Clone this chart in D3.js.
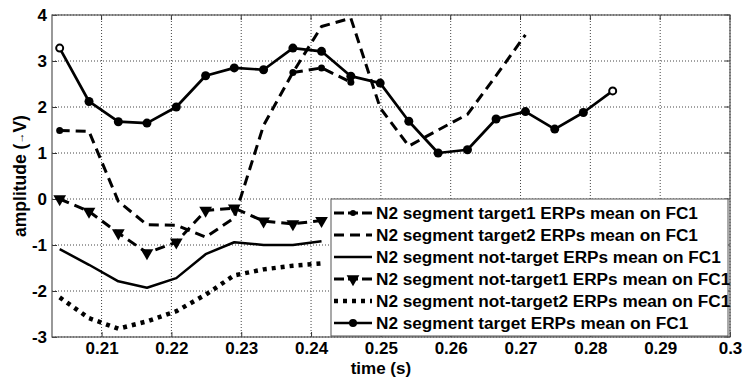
<!DOCTYPE html>
<html lang="en">
<head>
  <meta charset="UTF-8">
  <title>N2 segment ERPs on FC1</title>
  <script src="https://d3js.org/d3.v7.min.js"></script>
  <style>
    body { margin: 0; background: #fff; }
    text { font-family: "Liberation Sans", Arial, sans-serif; font-weight: bold; fill: #000; }
  </style>
</head>
<body>
  <svg width="744" height="382"></svg>

  <script>
    // sample times (s)
    const times = [0.2040, 0.2082, 0.2124, 0.2165, 0.2207, 0.2249, 0.2290, 0.2332, 0.2374, 0.2415,
                   0.2457, 0.2499, 0.2540, 0.2582, 0.2624, 0.2665, 0.2707, 0.2749, 0.2790, 0.2832];

    // amplitudes (uV), one value per sample time
    const target1 = [null, null, null, null, null, null, null, null, 2.75, 2.85, 2.54];
    const target2 = [1.49, 1.47, -0.05, -0.56, -0.57, -0.83, -0.41, 1.60, 2.75, 3.75,
                     3.93, 1.98, 1.15, 1.50, 1.84, 2.68, 3.57];
    const notTarget = [-1.09, -1.43, -1.79, -1.93, -1.72, -1.20, -0.94, -1.00, -1.00, -0.92];
    const notTarget1 = [0.00, -0.27, -0.74, -1.17, -0.94, -0.25, -0.20, -0.48, -0.54, -0.47];
    const notTarget2 = [-2.14, -2.59, -2.82, -2.66, -2.44, -2.08, -1.66, -1.53, -1.45, -1.40];
    const target = [3.28, 2.12, 1.68, 1.65, 2.00, 2.68, 2.85, 2.81, 3.28, 3.21,
                    2.67, 2.52, 1.69, 1.00, 1.07, 1.74, 1.90, 1.52, 1.88, 2.35];

    const xTicks = [0.21, 0.22, 0.23, 0.24, 0.25, 0.26, 0.27, 0.28, 0.29, 0.3];
    const yTicks = [-3, -2, -1, 0, 1, 2, 3, 4];

    const legendLabels = [
      "N2 segment target1 ERPs mean on FC1",
      "N2 segment target2 ERPs mean on FC1",
      "N2 segment not-target ERPs mean on FC1",
      "N2 segment not-target1 ERPs mean on FC1",
      "N2 segment not-target2 ERPs mean on FC1",
      "N2 segment target ERPs mean on FC1"
    ];

    const svg = d3.select("svg"),
          margin = { top: 15, right: 14, bottom: 45, left: 52 },
          width = +svg.attr("width") - margin.left - margin.right,
          height = +svg.attr("height") - margin.top - margin.bottom;

    const x = d3.scaleLinear().domain([0.2029, 0.3]).range([0, width]);
    const y = d3.scaleLinear().domain([-3, 4]).range([height, 0]);

    const g = svg.append("g")
      .attr("transform", "translate(" + margin.left + "," + margin.top + ")");

    // dotted grid
    g.selectAll(".gx").data(xTicks).enter().append("line")
      .attr("x1", d => x(d)).attr("x2", d => x(d))
      .attr("y1", 0).attr("y2", height)
      .attr("stroke", "#444").attr("stroke-width", 1).attr("stroke-dasharray", "1,2");
    g.selectAll(".gy").data(yTicks).enter().append("line")
      .attr("x1", 0).attr("x2", width)
      .attr("y1", d => y(d)).attr("y2", d => y(d))
      .attr("stroke", "#444").attr("stroke-width", 1).attr("stroke-dasharray", "1,2");

    // axes
    const xAxis = g.append("g")
      .attr("transform", "translate(0," + height + ")")
      .call(d3.axisBottom(x).tickValues(xTicks).tickFormat(d => String(d)).tickSize(-5).tickPadding(5));
    const yAxis = g.append("g")
      .call(d3.axisLeft(y).tickValues(yTicks).tickFormat(d => String(d)).tickSize(-5).tickPadding(5));
    [xAxis, yAxis].forEach(a => {
      a.select(".domain").remove();
      a.selectAll("line").attr("stroke", "#333");
      a.selectAll("text").attr("font-size", 17).attr("font-family", null);
    });
    // top/right ticks
    g.selectAll(".tt").data(xTicks).enter().append("line")
      .attr("x1", d => x(d)).attr("x2", d => x(d)).attr("y1", 0).attr("y2", 5).attr("stroke", "#333");
    g.selectAll(".tr").data(yTicks).enter().append("line")
      .attr("x1", width).attr("x2", width - 5).attr("y1", d => y(d)).attr("y2", d => y(d)).attr("stroke", "#333");

    g.append("rect")
      .attr("width", width).attr("height", height)
      .attr("fill", "none").attr("stroke", "#555").attr("stroke-width", 1.2);

    // axis titles
    svg.append("text")
      .attr("x", margin.left + x(0.25)).attr("y", 374)
      .attr("text-anchor", "middle").attr("font-size", 17)
      .text("time (s)");
    const yTitle = svg.append("text")
      .attr("transform", "translate(26," + (margin.top + height / 2) + ") rotate(-90)")
      .attr("text-anchor", "middle").attr("font-size", 17.5);
    yTitle.append("tspan").text("amplitude (");
    yTitle.append("tspan").attr("font-size", 11).attr("dy", -2).text("\u2192");
    yTitle.append("tspan").attr("dy", 2).text("V)");

    const pts = arr => arr.map((v, i) => ({ t: times[i], v: v })).filter(d => d.v !== null);
    const line = d3.line().x(d => x(d.t)).y(d => y(d.v));

    function drawLine(arr, dash, w) {
      g.append("path").datum(pts(arr))
        .attr("d", line)
        .attr("fill", "none").attr("stroke", "#000")
        .attr("stroke-width", w)
        .attr("stroke-dasharray", dash)
        .attr("stroke-linejoin", "round");
    }

    const tri = d3.symbol().type(d3.symbolTriangle).size(70);

    drawLine(notTarget2, "4,5", 4.5);
    drawLine(notTarget, null, 2.5);
    drawLine(notTarget1, "10,6", 3);
    g.selectAll(".tri").data(pts(notTarget1)).enter().append("path")
      .attr("d", tri)
      .attr("transform", d => "translate(" + x(d.t) + "," + y(d.v) + ") rotate(180)")
      .attr("fill", "#000");
    drawLine(target2, "10,6", 3);
    g.append("circle")
      .attr("cx", x(times[0])).attr("cy", y(target2[0])).attr("r", 3.5).attr("fill", "#000");
    drawLine(target1, "10,6", 3);
    g.selectAll(".t1").data(pts(target1)).enter().append("circle")
      .attr("cx", d => x(d.t)).attr("cy", d => y(d.v)).attr("r", 3.5).attr("fill", "#000");
    drawLine(target, null, 2.7);
    const tp = pts(target);
    g.selectAll(".tc").data(tp).enter().append("circle")
      .attr("cx", d => x(d.t)).attr("cy", d => y(d.v))
      .attr("r", (d, i) => (i === 0 || i === tp.length - 1) ? 3.5 : 4.5)
      .attr("fill", (d, i) => (i === 0 || i === tp.length - 1) ? "#fff" : "#000")
      .attr("stroke", "#000").attr("stroke-width", (d, i) => (i === 0 || i === tp.length - 1) ? 2 : 0);

    // legend
    const lg = svg.append("g").attr("transform", "translate(331,199)");
    lg.append("rect")
      .attr("width", 397).attr("height", 137)
      .attr("fill", "#fff").attr("stroke", "#555").attr("stroke-width", 1);

    const rowY = i => 14 + i * 22;
    const styles = [
      { dash: "10,4", w: 3, marker: "dot" },
      { dash: "10,6", w: 3, marker: null },
      { dash: null, w: 2.5, marker: null },
      { dash: "10,4", w: 3, marker: "tri" },
      { dash: "4,5", w: 4.5, marker: null },
      { dash: null, w: 2.5, marker: "dot" }
    ];
    legendLabels.forEach((label, i) => {
      const s = styles[i];
      lg.append("line")
        .attr("x1", 3).attr("x2", 41).attr("y1", rowY(i)).attr("y2", rowY(i))
        .attr("stroke", "#000").attr("stroke-width", s.w).attr("stroke-dasharray", s.dash);
      if (s.marker === "dot") {
        lg.append("circle").attr("cx", 22).attr("cy", rowY(i)).attr("r", i === 5 ? 4 : 3).attr("fill", "#000");
      } else if (s.marker === "tri") {
        lg.append("path").attr("d", tri)
          .attr("transform", "translate(22," + rowY(i) + ") rotate(180)").attr("fill", "#000");
      }
      lg.append("text")
        .attr("x", 45).attr("y", rowY(i) + 6)
        .attr("font-size", 17.2)
        .text(label);
    });
  </script>
</body>
</html>
